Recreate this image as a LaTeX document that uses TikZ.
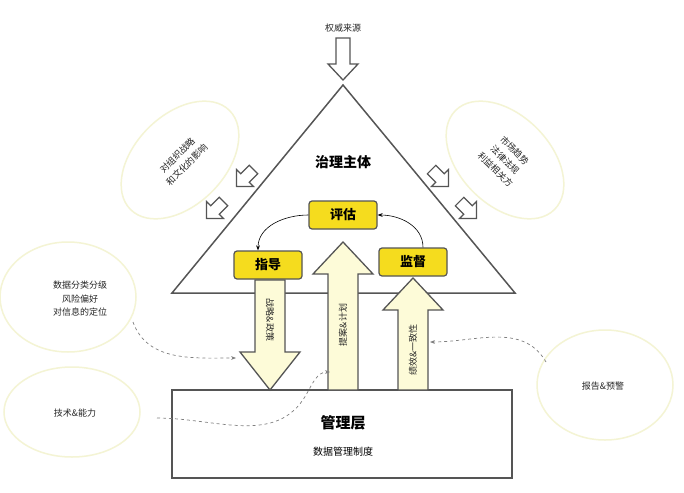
\documentclass[tikz,border=0pt]{standalone}
\usepackage{fontspec}
\setmainfont{Noto Sans CJK SC}
\usetikzlibrary{arrows.meta}
\definecolor{boxyel}{HTML}{F5DC1E}
\definecolor{palefill}{HTML}{FDFBD8}
\definecolor{ellc}{HTML}{F4F4D4}
\definecolor{lineg}{HTML}{555555}
\tikzset{
  gbox/.style={draw=lineg,line width=1.2pt,fill=boxyel,rounded corners=3pt,minimum width=68pt,minimum height=28pt,font=\bfseries\fontsize{13}{15}\selectfont},
  ell/.style={draw=ellc,line width=1.5pt},
  small/.style={font=\fontsize{9}{13.5}\selectfont,align=center,text=black!85},
  dashconn/.style={draw=gray,dashed,line width=0.7pt,-{Stealth[length=5pt]}},
}
% x, ytail, yhead, shaft half, head half, head length, fill
\newcommand\blockarr[7]{%
  \pgfmathsetmacro\dir{(#3>#2)?1:-1}%
  \draw[draw=lineg,line width=1.3pt,fill=#7,line join=miter]
   (#1-#4,#2) -- (#1-#4,#3-\dir*#6) -- (#1-#5,#3-\dir*#6) -- (#1,#3) -- (#1+#5,#3-\dir*#6) -- (#1+#4,#3-\dir*#6) -- (#1+#4,#2) -- cycle;}
\newcommand\hollowdiag[3]{% x y angle
  \begin{scope}[shift={(#1,#2)},rotate=#3]
  \draw[draw=lineg,line width=1.1pt,fill=white] (-6,-12) -- (-6,0) -- (-12,0) -- (0,12) -- (12,0) -- (6,0) -- (6,-12) -- cycle;
  \end{scope}}
\begin{document}
\begin{tikzpicture}[x=1pt,y=-1pt]
\useasboundingbox (0,0) rectangle (684,492);
\fill[white] (0,0) rectangle (684,492);
% ellipses
\draw[ell,rotate around={45:(180,160)}] (180,160) ellipse (70 and 45);
\draw[ell,rotate around={-45:(505,160)}] (505,160) ellipse (70 and 45);
\draw[ell] (68,297) ellipse (68 and 55);
\draw[ell] (72,412) ellipse (68 and 45);
\draw[ell] (605,385) ellipse (68 and 55);
\node[small,rotate=45] (t1) at (182,160) {对组织战略\\和文化的影响};
\node[small,rotate=-45] (t2) at (505,160) {市场趋势\\法律法规\\利益相关方};
\node[small] (t3) at (80,299) {数据分类分级\\风险偏好\\对信息的定位};
\node[small] (t4) at (75,413) {技术\&能力};
\node[small] (t5) at (603,386) {报告\&预警};
\node[small] (src) at (343,28) {权威来源};
% top arrow
\blockarr{343}{38}{80}{7}{15}{16}{white}
% triangle
\draw[lineg,line width=1.5pt,line join=miter] (343,85) -- (515,293) -- (172,293) -- cycle;
\node[font=\bfseries\fontsize{14}{16}\selectfont] (gov) at (343,162) {治理主体};
% small arrows
\hollowdiag{245}{178}{-45}
\hollowdiag{215}{210}{-45}
\hollowdiag{440}{178}{45}
\hollowdiag{468}{210}{45}
% management box
\draw[lineg,line width=1.5pt] (172,390) rectangle (512,478);
\node[font=\bfseries\fontsize{15}{17}\selectfont] (mgmt) at (343,423) {管理层};
\node[font=\fontsize{10}{12}\selectfont] (sys) at (343,452) {数据管理制度};
% big arrows
\blockarr{270}{280}{390}{15}{30}{38}{palefill}
\blockarr{343}{390}{242}{15}{30}{32}{palefill}
\blockarr{413}{390}{278}{15}{30}{32}{palefill}
\node[small,rotate=-90] (a1) at (270,320) {战略\&政策};
\node[small,rotate=90] (a2) at (343,325) {提案\&计划};
\node[small,rotate=90] (a3) at (413,350) {绩效\&一致性};
% yellow boxes
\node[gbox] (eval) at (343,215) {评估};
\node[gbox] (guide) at (268,265) {指导};
\node[gbox] (mon) at (413,262) {监督};
\draw[-{Stealth[length=5pt]},line width=0.6pt] (eval.west) to[out=180,in=90] ([xshift=-10pt]guide.north);
\draw[-{Stealth[length=5pt]},line width=0.6pt] ([xshift=10pt]mon.north) to[out=90,in=0] (eval.east);
% dashed connectors
\coordinate (d1) at (236,358);
\coordinate (d2) at (330,372);
\coordinate (d3) at (430,342);
\draw[dashconn] (133,322) to[out=-70,in=180] (d1);
\draw[dashconn] (157,418) to[out=0,in=-120] (306,395) to[out=60,in=180] (d2);
\draw[dashconn] (546,362) to[out=120,in=0] (d3);
\end{tikzpicture}
\end{document}
